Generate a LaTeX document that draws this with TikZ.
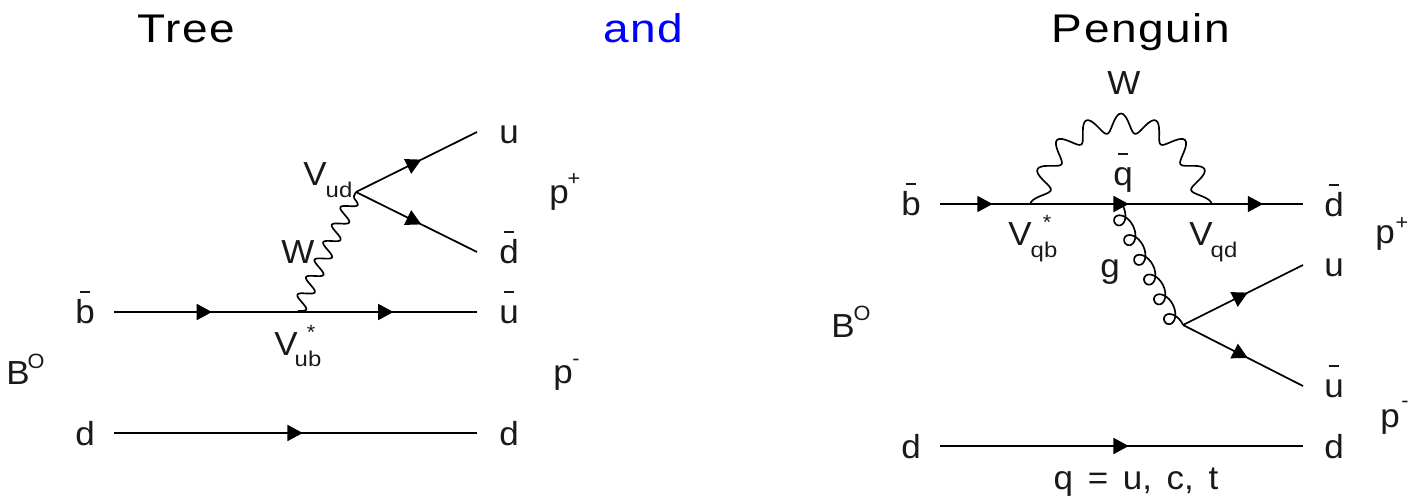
\documentclass[tikz,border=0pt]{standalone}
\usepackage{fontspec}
\setmainfont[FakeStretch=1.05]{Liberation Sans}
\newfontfamily\ttlfont[FakeStretch=1.15,LetterSpace=4]{Liberation Sans}
\newfontfamily\subfont[FakeStretch=1.12]{Liberation Sans}
\usetikzlibrary{arrows.meta,decorations.pathmorphing,decorations.markings}
\newcommand{\ovb}[1]{\ooalign{#1\cr\hfil\raisebox{22.8pt}{\rule{7.5pt}{1.1pt}}\hfil\cr}}
\tikzset{
  x=0.75pt,y=-0.75pt,
  lbl/.style={inner sep=0pt,anchor=base,font=\fontsize{25}{25}\selectfont,text=black!90},
  sub/.style={inner sep=0pt,anchor=base,font=\subfont\fontsize{16}{16}\selectfont,text=black!90},
  sup/.style={inner sep=0pt,anchor=center,font=\fontsize{15.5}{15.5}\selectfont,text=black!90},
  ttl/.style={inner sep=0pt,anchor=base,font=\ttlfont\fontsize{30}{30}\selectfont},
  line/.style={line width=1.3pt},
  amark/.style={postaction={decorate,decoration={markings,mark=at position #1 with {\arrow{Triangle[length=11.5pt,width=12pt]}}}}},
  wboson/.style={line width=1.25pt,decorate,decoration={snake,segment length=14.6pt,amplitude=5.5pt,mirror}},
  wloop/.style={line width=1.25pt},
  gluon/.style={line width=1.25pt}
}
\begin{document}
\begin{tikzpicture}
\useasboundingbox (0,0) rectangle (1416,496);
% titles
\node[ttl] (t1) at (186,42) {Tree};
\node[ttl,text=blue] (t2) at (643,42) {and};
\node[ttl] (t3) at (1141,42) {Penguin};
% left diagram
\coordinate (lb) at (114,312); \coordinate (lu) at (477,312);
\coordinate (ld) at (114,433); \coordinate (ldd) at (477,433);
\coordinate (lv) at (356,192); \coordinate (lw) at (297,312);
\coordinate (lue) at (477,132); \coordinate (lde) at (477,252);
\draw[line,amark=0.27,amark=0.77] (lb) -- (lu);
\draw[line,amark=0.52] (ld) -- (ldd);
\draw[line,amark=0.54] (lv) -- (lue);
\draw[line,amark=0.54] (lv) -- (lde);
\draw[wboson] (lw) -- (lv);
\node[lbl] (l1) at (85,323) {\ovb{b}};
\node[lbl] (l2) at (85,445) {d};
\node[lbl] (l3) at (509,143) {u};
\node[lbl] (l4) at (509,263) {\ovb{d}};
\node[lbl] (l5) at (509,323) {\ovb{u}};
\node[lbl] (l6) at (509,445) {d};
\node[lbl] (l7) at (298,263) {W};
\node[lbl] (l8) at (315,185) {V};
\node[sub] (l9) at (339,197) {ud};
\node[lbl] (l10) at (286,355) {V};
\node[sub] (l11) at (308,366) {ub};
\node[sup] (l12) at (311,332) {*};
\node[lbl] (l13) at (18,384) {B};
\node[sup] (l14) at (36,361) {O};
\node[lbl] (l15) at (559,203) {p};
\node[sup] (l16) at (574,180) {+};
\node[lbl] (l17) at (563,383) {p};
\node[sup] (l18) at (576,362) {-};
% right diagram
\coordinate (rb) at (940,204); \coordinate (rd) at (1303,204);
\coordinate (re) at (940,446); \coordinate (rf) at (1303,446);
\coordinate (rv) at (1183,325); \coordinate (rg) at (1123,206);
\coordinate (rue) at (1303,265); \coordinate (rde) at (1303,386);
\coordinate (rwa) at (1030,204); \coordinate (rwb) at (1212,204); \coordinate (rwc) at (1121,204);
\draw[line,amark=0.145,amark=0.52,amark=0.89] (rb) -- (rd);
\draw[line,amark=0.52] (re) -- (rf);
\draw[line,amark=0.54] (rv) -- (rue);
\draw[line,amark=0.54] (rv) -- (rde);
\draw[wloop] (rwa) -- plot[shift={(rwc)},smooth,domain=180:360,samples=145] ({(81+9.5*cos(16*\x))*cos(\x)},{(81+9.5*cos(16*\x))*sin(\x)}) -- (rwb);
\draw[gluon] (rg) -- plot[shift={(rg)},smooth,domain=0:2160,samples=145]
  ({0.45*(3.53*rad(\x)+10*sin(\x))-0.89*7.5*(1-cos(\x))},{0.89*(3.53*rad(\x)+10*sin(\x))+0.45*7.5*(1-cos(\x))}) -- (rv);
\node[lbl] (r1) at (911,215) {\ovb{b}};
\node[lbl] (r2) at (911,458) {d};
\node[lbl] (r3) at (1334,216) {\ovb{d}};
\node[lbl] (r4) at (1334,276) {u};
\node[lbl] (r5) at (1334,397) {\ovb{u}};
\node[lbl] (r6) at (1334,458) {d};
\node[lbl] (r7) at (1124,94) {W};
\node[lbl] (r8) at (1123,185) {\ovb{q}};
\node[lbl] (r9) at (1020,245) {V};
\node[sub] (r10) at (1044,257) {qb};
\node[sup] (r11) at (1047,222) {*};
\node[lbl] (r12) at (1201,245) {V};
\node[sub] (r13) at (1224,257) {qd};
\node[lbl] (r14) at (1110,277) {g};
\node[lbl] (r15) at (843,337) {B};
\node[sup] (r16) at (862,313) {O};
\node[lbl] (r17) at (1385,243) {p};
\node[sup] (r18) at (1402,224) {+};
\node[lbl] (r19) at (1390,427) {p};
\node[sup] (r20) at (1405,404) {-};
\node[lbl] (r21) at (1136,489) {\spaceskip=11pt q = u, c, t};
\end{tikzpicture}
\end{document}
